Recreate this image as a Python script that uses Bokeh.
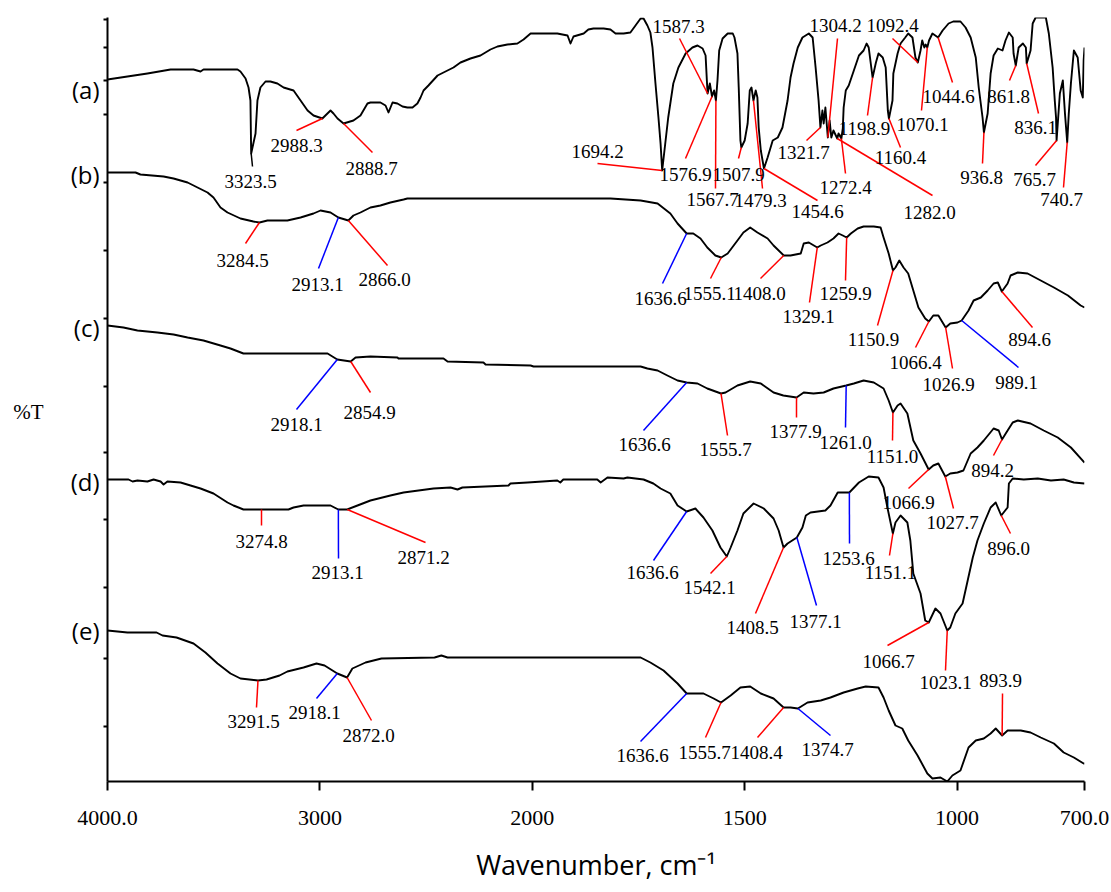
import numpy as np
from bokeh.plotting import figure
from bokeh.models import Range1d, FixedTicker, ColumnDataSource, LinearAxis
from bokeh.core.properties import value
from bokeh.embed import file_html
from bokeh.resources import INLINE

# ---------------- data: wavenumber (cm-1) and stacked %T (arbitrary units) ----------------
wn_a = [4000, 3906, 3812, 3703, 3595, 3562, 3548, 3388, 3374, 3350, 3336, 3327, 3323.5, 3303, 3294, 3280,
        3256, 3233, 3200, 3171, 3124, 3091, 3058, 3030, 2988.3, 2974, 2950, 2936, 2917, 2888.7, 2842, 2809,
        2776, 2762, 2715, 2691, 2677, 2658, 2635, 2611, 2588, 2564, 2541, 2526, 2512, 2489, 2446, 2418,
        2371, 2338, 2291, 2244, 2197, 2164, 2117, 2070, 2041, 2008, 1941, 1917, 1910, 1903, 1879, 1868,
        1856, 1832, 1816, 1804, 1785, 1769, 1757, 1745, 1738, 1729, 1722, 1717, 1710, 1703, 1698, 1694.2,
        1680, 1668, 1656, 1639, 1623, 1611, 1599, 1592, 1589, 1587.3, 1582, 1576.9, 1572, 1567.7, 1564, 1560,
        1552, 1540, 1528, 1524, 1517, 1514, 1510, 1507.9, 1500, 1493, 1488, 1484, 1479.3, 1474, 1470, 1467,
        1462, 1454.6, 1446, 1434, 1422, 1411, 1399, 1392, 1385, 1375, 1364, 1349, 1340, 1333, 1326, 1321.7,
        1317, 1314, 1310, 1304.2, 1300, 1296, 1291, 1282.0, 1279, 1272.4, 1269, 1267, 1262, 1255, 1243, 1231,
        1220, 1213, 1208, 1198.9, 1191, 1185, 1175, 1168, 1163, 1160.4, 1152, 1150, 1140, 1133, 1122, 1115,
        1105, 1098, 1092.4, 1086, 1082, 1077, 1074, 1070.1, 1066, 1058, 1044.6, 1034, 1020, 1009, 992, 980,
        968, 956, 949, 940, 936.8, 928, 921, 914, 904, 893, 886, 878, 869, 867, 861.8, 855,
        845, 838, 836.1, 827, 822, 815, 791, 784, 775, 770, 767, 765.7, 758, 751, 746, 740.7,
        737, 732, 725, 716, 709, 704, 702, 700]
t_a = [70.2, 70.5, 70.8, 71.2, 71.2, 71.0, 71.2, 71.2, 71.0, 70.3, 69.4, 68.1, 62.8, 64.8, 68.1, 69.4,
       70.0, 70.0, 69.8, 69.4, 69.1, 68.1, 67.1, 66.6, 66.3, 66.6, 67.1, 66.8, 66.3, 65.8, 66.1, 66.6,
       67.8, 67.9, 67.9, 67.6, 66.9, 67.9, 67.8, 67.5, 67.4, 67.4, 67.8, 68.4, 69.1, 69.6, 70.6, 70.9,
       71.4, 71.9, 72.3, 72.6, 73.2, 73.5, 73.7, 73.8, 74.2, 74.8, 74.8, 74.6, 73.8, 74.5, 74.8, 75.2,
       75.3, 75.3, 75.2, 74.8, 74.8, 74.9, 75.6, 76.3, 76.3, 75.6, 74.9, 73.4, 69.8, 66.4, 63.8, 61.1,
       66.4, 69.8, 71.4, 72.8, 73.4, 73.6, 73.3, 72.6, 70.1, 68.8, 69.8, 68.5, 69.1, 68.1, 70.1, 73.1,
       74.3, 74.8, 74.8, 74.4, 72.8, 69.4, 64.1, 63.4, 64.1, 65.8, 69.1, 69.4, 68.1, 69.1, 68.4, 65.4,
       63.1, 61.3, 62.4, 64.1, 64.4, 65.4, 68.1, 70.4, 71.8, 73.4, 74.4, 74.8, 74.4, 71.4, 68.1, 65.4,
       67.1, 65.8, 67.4, 64.4, 66.1, 64.4, 65.1, 64.3, 64.8, 64.3, 65.3, 67.4, 69.1, 69.6, 71.1, 72.6,
       73.1, 73.8, 73.4, 70.4, 71.9, 72.8, 72.4, 71.4, 67.1, 66.3, 68.1, 70.8, 72.8, 73.8, 74.4, 74.8,
       74.4, 72.4, 71.9, 73.1, 74.1, 73.4, 73.7, 73.4, 74.1, 74.8, 74.4, 75.1, 75.8, 76.0, 76.0, 75.4,
       74.4, 72.4, 69.4, 66.4, 64.9, 66.8, 70.8, 72.6, 73.3, 73.1, 74.1, 74.9, 74.4, 72.8, 71.6, 73.4,
       73.8, 73.4, 71.8, 73.1, 75.8, 76.4, 76.4, 74.8, 71.4, 68.1, 66.4, 64.1, 68.8, 70.1, 66.8, 63.9,
       66.8, 69.8, 73.1, 72.4, 69.1, 68.4, 72.1, 73.4]

wn_b = [4000, 3868, 3845, 3736, 3689, 3623, 3576, 3529, 3501, 3468, 3435, 3374, 3313, 3284.5, 3247, 3153,
        3091, 3030, 2997, 2950, 2913.1, 2866.0, 2842, 2809, 2762, 2715, 2668, 2606, 2588, 1816, 1745, 1705,
        1675, 1658, 1636.6, 1621, 1604, 1588, 1569, 1555.1, 1540, 1517, 1503, 1487, 1470, 1446, 1432, 1408.0,
        1392, 1368, 1361, 1349, 1329.1, 1321, 1305, 1291, 1279, 1269, 1259.9, 1250, 1234, 1220, 1196, 1180,
        1173, 1161, 1150.9, 1145, 1136, 1126, 1115, 1103, 1091, 1075, 1066.4, 1056, 1044, 1026.9, 1016, 999,
        989.1, 973, 961, 944, 928, 914, 904, 894.6, 881, 874, 857, 834, 803, 772, 739, 709, 700]
t_b = [60.9, 60.9, 60.7, 60.5, 60.3, 59.9, 59.4, 58.9, 58.4, 57.4, 56.9, 56.3, 56.0, 55.9, 56.1, 56.1,
       56.4, 56.8, 57.1, 56.9, 56.4, 56.1, 56.6, 56.9, 57.4, 57.6, 57.9, 58.2, 58.3, 58.3, 58.1, 57.8,
       56.8, 55.8, 54.8, 54.8, 54.3, 53.4, 52.6, 52.4, 52.8, 54.1, 54.9, 55.4, 54.9, 54.3, 53.6, 52.6,
       52.6, 52.8, 53.8, 53.9, 53.4, 53.6, 53.9, 54.3, 54.8, 54.6, 54.4, 54.8, 55.3, 55.5, 55.5, 55.4,
       54.4, 52.8, 51.1, 51.4, 52.1, 51.4, 50.8, 49.1, 47.4, 46.3, 46.0, 46.6, 46.6, 45.4, 45.8, 45.9,
       46.1, 47.1, 48.1, 48.4, 49.1, 49.8, 49.9, 49.0, 49.8, 50.6, 50.9, 50.8, 50.1, 49.4, 48.6, 47.6, 47.4]

wn_c = [4000, 3925, 3859, 3765, 3689, 3623, 3548, 3468, 3421, 3360, 2964, 2918.1, 2854.9, 2832, 2762, 2635,
        2630, 2418, 2399, 2230, 2220, 2008, 1997, 1745, 1729, 1705, 1682, 1658, 1636.6, 1611, 1588, 1555.7,
        1545, 1517, 1487, 1462, 1432, 1409, 1377.9, 1361, 1338, 1314, 1291, 1261.0, 1243, 1220, 1196, 1173,
        1161, 1151.0, 1140, 1133, 1117, 1103, 1086, 1066.9, 1056, 1044, 1027.7, 1016, 999, 985, 968, 952,
        937, 914, 902, 894.2, 881, 869, 857, 827, 796, 763, 732, 700]
t_c = [45.6, 45.4, 45.1, 44.9, 44.7, 44.4, 44.1, 43.6, 43.3, 42.8, 42.8, 42.2, 42.0, 42.4, 42.5, 42.4,
       42.3, 42.3, 42.0, 41.9, 41.7, 41.6, 41.5, 41.5, 41.3, 41.1, 40.6, 40.1, 39.9, 39.8, 39.3, 38.8,
       38.9, 39.6, 40.0, 39.8, 38.9, 38.6, 38.4, 38.9, 38.8, 38.9, 39.3, 39.6, 39.8, 40.1, 39.9, 39.3,
       38.1, 36.9, 37.6, 37.8, 36.8, 34.1, 32.8, 31.2, 31.6, 31.8, 30.5, 30.8, 30.9, 31.1, 32.8, 33.4,
       34.1, 35.3, 35.1, 34.2, 35.1, 35.9, 36.1, 35.8, 35.1, 34.4, 33.4, 31.9]

wn_d = [4000, 3901, 3882, 3859, 3812, 3783, 3750, 3736, 3718, 3656, 3609, 3562, 3501, 3435, 3407, 3360,
        3274.8, 3148, 3124, 3077, 2950, 2913.1, 2871.2, 2823, 2762, 2668, 2606, 2465, 2385, 2352, 2329, 2112,
        2103, 2022, 1941, 1934, 1927, 1847, 1839, 1823, 1785, 1776, 1738, 1715, 1698, 1675, 1658, 1636.6,
        1616, 1597, 1576, 1557, 1542.1, 1533, 1517, 1503, 1479, 1455, 1432, 1420, 1408.5, 1399, 1377.1, 1364,
        1356, 1345, 1310, 1298, 1281, 1253.6, 1231, 1208, 1185, 1173, 1164, 1151.1, 1145, 1133, 1117, 1110,
        1103, 1086, 1075, 1066.7, 1051, 1039, 1023.1, 1016, 1004, 987, 975, 963, 952, 937, 921, 909,
        896.0, 881, 878, 869, 843, 810, 779, 749, 725, 700]
t_d = [30.2, 30.2, 30.0, 30.1, 30.0, 30.2, 30.0, 29.7, 30.0, 29.9, 29.6, 29.3, 28.8, 27.9, 27.6, 27.2,
       27.2, 27.2, 27.4, 27.6, 27.6, 27.2, 27.2, 27.6, 28.1, 28.6, 28.9, 29.3, 29.4, 29.2, 29.4, 29.6,
       29.8, 29.9, 30.1, 29.9, 30.2, 30.2, 29.9, 30.4, 30.3, 30.4, 30.2, 29.8, 29.3, 28.8, 27.6, 27.0,
       27.3, 26.4, 25.1, 23.4, 22.5, 23.4, 25.1, 26.8, 27.8, 27.3, 26.3, 25.1, 23.4, 23.8, 24.4, 25.4,
       26.6, 26.9, 27.1, 27.6, 28.9, 28.9, 29.9, 30.5, 30.4, 29.4, 27.4, 24.8, 25.9, 26.6, 25.9, 24.1,
       20.8, 18.8, 16.1, 15.9, 17.3, 16.8, 15.1, 15.4, 16.8, 17.8, 20.1, 22.4, 24.1, 25.8, 27.4, 27.9,
       26.6, 27.4, 29.8, 30.3, 30.2, 30.3, 30.1, 30.2, 29.9, 29.8]

wn_e = [4000, 3906, 3769, 3741, 3675, 3595, 3539, 3482, 3421, 3374, 3291.5, 3251, 3190, 3153, 3077, 3016,
        2978, 2918.1, 2872.0, 2847, 2785, 2710, 2460, 2428, 2399, 1745, 1722, 1691, 1658, 1636.6, 1597, 1573,
        1555.7, 1533, 1510, 1487, 1462, 1432, 1408.4, 1392, 1374.7, 1352, 1321, 1298, 1267, 1234, 1215, 1185,
        1173, 1161, 1145, 1129, 1115, 1093, 1070, 1058, 1039, 1023, 1011, 992, 973, 956, 937, 921,
        909, 893.9, 881, 850, 827, 803, 772, 749, 725, 702, 700]
t_e = [15.1, 14.9, 14.9, 14.6, 14.4, 13.8, 12.9, 11.8, 10.8, 10.3, 10.1, 10.2, 10.6, 11.0, 11.4, 11.8,
       11.6, 10.8, 10.4, 11.3, 11.9, 12.3, 12.4, 12.6, 12.4, 12.4, 11.9, 11.1, 9.8, 8.8, 8.8, 8.3,
       7.9, 8.6, 9.4, 9.5, 8.8, 8.3, 7.4, 7.4, 7.3, 7.9, 8.1, 8.4, 8.9, 9.3, 9.5, 9.4,
       8.4, 7.1, 5.6, 5.3, 4.1, 2.6, 0.8, 0.3, 0.4, 0.0, 0.6, 1.1, 3.4, 4.1, 4.3, 4.8,
       5.3, 4.6, 5.1, 5.1, 4.9, 4.4, 3.8, 2.9, 2.4, 1.8, 1.8]

series_names = ["(a)", "(b)", "(c)", "(d)", "(e)"]
series_wn = [wn_a, wn_b, wn_c, wn_d, wn_e]
series_t = [t_a, t_b, t_c, t_d, t_e]

tick_wavenumbers = [4000, 3000, 2000, 1500, 1000, 700]
tick_labels = ["4000.0", "3000", "2000", "1500", "1000", "700.0"]
x_title = "Wavenumber, cm\u207b\u00b9"
y_title = "%T"

# peak annotations: (series index, label, leader colour)
peaks = [
    (0, "3323.5", "black"), (0, "2988.3", "red"), (0, "2888.7", "red"), (0, "1694.2", "red"),
    (0, "1587.3", "red"), (0, "1576.9", "red"), (0, "1567.7", "red"), (0, "1507.9", "red"),
    (0, "1479.3", "red"), (0, "1454.6", "red"), (0, "1321.7", "red"), (0, "1304.2", "red"),
    (0, "1272.4", "red"), (0, "1282.0", "red"), (0, "1198.9", "red"), (0, "1160.4", "red"),
    (0, "1092.4", "red"), (0, "1070.1", "red"), (0, "1044.6", "red"), (0, "936.8", "red"),
    (0, "861.8", "red"), (0, "836.1", "red"), (0, "765.7", "red"), (0, "740.7", "red"),
    (1, "3284.5", "red"), (1, "2913.1", "blue"), (1, "2866.0", "red"), (1, "1636.6", "blue"),
    (1, "1555.1", "red"), (1, "1408.0", "red"), (1, "1329.1", "red"), (1, "1259.9", "red"),
    (1, "1150.9", "red"), (1, "1066.4", "red"), (1, "1026.9", "red"), (1, "989.1", "blue"),
    (1, "894.6", "red"),
    (2, "2918.1", "blue"), (2, "2854.9", "red"), (2, "1636.6", "blue"), (2, "1555.7", "red"),
    (2, "1377.9", "red"), (2, "1261.0", "blue"), (2, "1151.0", "red"), (2, "1066.9", "red"),
    (2, "1027.7", "red"), (2, "894.2", "red"),
    (3, "3274.8", "red"), (3, "2913.1", "blue"), (3, "2871.2", "red"), (3, "1636.6", "blue"),
    (3, "1542.1", "red"), (3, "1408.5", "red"), (3, "1377.1", "blue"), (3, "1253.6", "blue"),
    (3, "1151.1", "red"), (3, "1066.7", "red"), (3, "1023.1", "red"), (3, "896.0", "red"),
    (4, "3291.5", "red"), (4, "2918.1", "blue"), (4, "2872.0", "red"), (4, "1636.6", "blue"),
    (4, "1555.7", "red"), (4, "1408.4", "red"), (4, "1374.7", "blue"), (4, "893.9", "red"),
]

# layout of each annotation (page pixels): leader end (x, y) and label centre (x, y)
peak_layout = [
    (252, 166, 250, 181), (296, 130, 296, 145), (372, 152, 371, 168), (597, 163, 597, 151),
    (679, 38, 678, 26), (685, 158, 685, 174), (715, 188, 712, 199), (738, 158, 738, 174),
    (762, 188, 760, 200), (817, 200, 817, 211), (806, 140, 803, 152), (837, 38, 835, 25),
    (845, 173, 845, 187), (932, 195, 929, 212), (867, 115, 864, 128), (900, 147, 900, 157),
    (892, 38, 892, 25), (921, 110, 922, 124), (952, 82, 948, 96), (982, 163, 981, 177),
    (1009, 80, 1008, 96), (1038, 113, 1035, 127), (1035, 165, 1034, 179), (1063, 187, 1061, 199),
    (245, 243, 242, 260), (318, 268, 317, 284), (387, 265, 384, 279), (662, 283, 660, 298),
    (710, 278, 709, 293), (760, 278, 759, 293), (809, 302, 808, 316), (845, 280, 845, 293),
    (877, 325, 873, 339), (915, 347, 915, 362), (952, 368, 948, 384), (1018, 367, 1016, 382),
    (1032, 327, 1029, 339),
    (296, 409, 296, 424), (370, 392, 369, 412), (643, 430, 644, 444), (727, 435, 725, 449),
    (796, 417, 795, 431), (845, 427, 845, 442), (892, 440, 892, 456), (908, 488, 908, 502),
    (953, 508, 952, 522), (993, 455, 992, 470),
    (261, 525, 261, 541), (338, 558, 337, 572), (425, 542, 423, 557), (653, 560, 652, 572),
    (710, 573, 709, 587), (755, 613, 752, 627), (816, 605, 815, 621), (849, 543, 848, 558),
    (889, 555, 890, 572), (887, 645, 888, 661), (945, 670, 945, 682), (1010, 533, 1008, 548),
    (256, 707, 253, 721), (316, 698, 314, 712), (371, 720, 368, 735), (640, 741, 642, 755),
    (705, 737, 704, 752), (757, 737, 756, 752), (830, 735, 827, 749), (1002, 693, 1000, 680),
]
series_label_y = [89, 174, 327, 481, 630]
ytick_page = [19, 47, 80, 114, 182, 250, 318, 386, 452, 519, 587, 658, 726]
y_title_page = 411

# ---------------- axis transform: 4000-2000 at half the scale of 2000-700 ----------------
def u_of_w(w):
    w = np.asarray(w, dtype=float)
    return np.where(w >= 2000, 4000.0 - w, 2000.0 + 2.0 * (2000.0 - w))

U_MAX = 4600.0
FX0, FX1, FY0, FY1 = 107.0, 1084.0, 17.0, 781.0   # frame edges on the page
T_MAX = (FY1 - FY0) / 10.0
W, H = 1111, 892

def px_u(px):
    return (px - FX0) * U_MAX / (FX1 - FX0)

def py_t(py):
    return round((FY1 - py) / 10.0, 3)

p = figure(width=W, height=H, output_backend="svg", toolbar_location=None,
           x_range=Range1d(0, U_MAX), y_range=Range1d(0, T_MAX),
           min_border_left=int(FX0), min_border_right=int(W - FX1),
           min_border_top=int(FY0), min_border_bottom=int(H - FY1))
p.outline_line_color = None
p.xgrid.visible = False
p.ygrid.visible = False
p.background_fill_color = "white"
p.border_fill_color = "white"

# x axis
tick_u = [int(round(float(v))) for v in u_of_w(tick_wavenumbers)]
p.xaxis.ticker = FixedTicker(ticks=tick_u)
p.xaxis.major_label_overrides = {u: lab for u, lab in zip(tick_u, tick_labels)}
p.xaxis.axis_line_width = 2
p.xaxis.axis_line_color = "black"
p.xaxis.major_tick_line_width = 2
p.xaxis.major_tick_out = 9
p.xaxis.major_tick_in = 0
p.xaxis.minor_tick_line_color = None
p.xaxis.major_label_text_font = "Liberation Serif"
p.xaxis.major_label_text_font_size = "22px"
p.xaxis.major_label_text_color = "black"
p.xaxis.major_label_standoff = 20
p.xaxis.axis_label = x_title
p.xaxis.axis_label_text_font = "Open Sans"
p.xaxis.axis_label_text_font_size = "27px"
p.xaxis.axis_label_text_font_style = "normal"
p.xaxis.axis_label_text_color = "black"
p.xaxis.axis_label_standoff = 18

# y axis: series letters as labels, plain tick marks as minor ticks
series_pos = [py_t(v) for v in series_label_y]
p.yaxis.ticker = FixedTicker(ticks=series_pos, minor_ticks=[py_t(v) for v in ytick_page])
p.yaxis.major_label_overrides = {v: n for v, n in zip(series_pos, series_names)}
p.yaxis.major_label_text_font = "Open Sans"
p.yaxis.major_label_text_font_size = "24px"
p.yaxis.major_label_text_color = "black"
p.yaxis.major_label_standoff = 4
p.yaxis.major_tick_line_color = None
p.yaxis.major_tick_out = 0
p.yaxis.major_tick_in = 0
p.yaxis.minor_tick_line_color = "black"
p.yaxis.minor_tick_line_width = 2
p.yaxis.minor_tick_out = 4
p.yaxis.minor_tick_in = 0
p.yaxis.axis_line_width = 2
p.yaxis.axis_line_color = "black"

# outer left axis that only carries the %T title
yt = py_t(y_title_page)
ax_t = LinearAxis(ticker=FixedTicker(ticks=[yt]), major_label_overrides={yt: y_title},
                  axis_line_color=None, major_tick_line_color=None, minor_tick_line_color=None,
                  major_tick_out=0, major_tick_in=0, major_label_standoff=24,
                  major_label_text_font="Liberation Serif", major_label_text_font_size="21px",
                  major_label_text_color="black")
p.add_layout(ax_t, "left")

# spectra
series_u = []
for wn, tt in zip(series_wn, series_t):
    u = u_of_w(wn)
    series_u.append(u)
    p.line(u, tt, line_color="black", line_width=1.9, line_join="round")

# leaders and peak labels
x0, y0, x1, y1, cols, tx, ty, txt = [], [], [], [], [], [], [], []
for (si, lab, col), (ex, ey, lx, ly) in zip(peaks, peak_layout):
    us = float(u_of_w(float(lab)))
    ts = float(np.interp(us, series_u[si], series_t[si]))
    x0.append(us); y0.append(ts)
    x1.append(px_u(ex)); y1.append(py_t(ey))
    cols.append(col)
    tx.append(px_u(lx)); ty.append(py_t(ly)); txt.append(lab)

p.segment(x0=x0, y0=y0, x1=x1, y1=y1, line_color=cols, line_width=1.5)
src = ColumnDataSource(dict(x=tx, y=ty, text=txt))
p.text(x="x", y="y", text="text", source=src, text_font=value("Liberation Serif"),
       text_font_size="19px", text_align="center", text_baseline="middle", text_color="black")

open("out.html", "w").write(file_html(p, INLINE))
